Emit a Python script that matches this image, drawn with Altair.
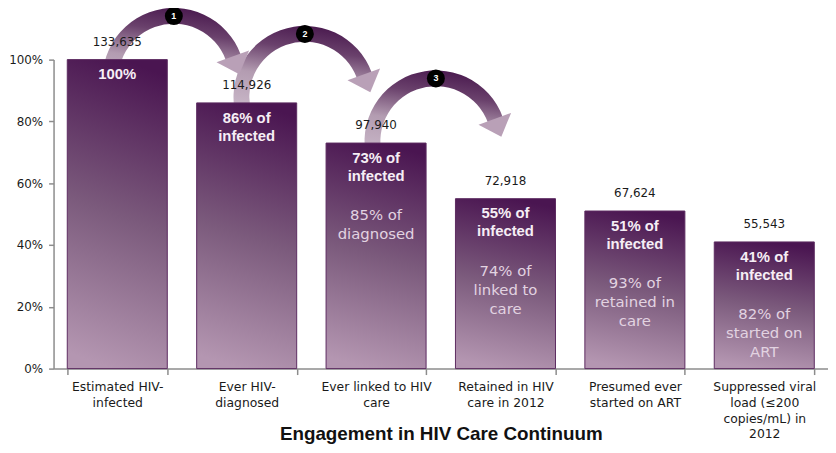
import altair as alt
import pandas as pd

# ---- data ----
categories = [
    "Estimated HIV-\ninfected",
    "Ever HIV-\ndiagnosed",
    "Ever linked to HIV\ncare",
    "Retained in HIV\ncare in 2012",
    "Presumed ever\nstarted on ART",
    "Suppressed viral\nload (≤200\ncopies/mL) in\n2012",
]
pct_values = [100, 86, 73, 55, 51, 41]
count_labels = ["133,635", "114,926", "97,940", "72,918", "67,624", "55,543"]
main_labels = ["100%", "86% of\ninfected", "73% of\ninfected", "55% of\ninfected",
               "51% of\ninfected", "41% of\ninfected"]
sub_labels = ["", "", "85% of\ndiagnosed", "74% of\nlinked to\ncare",
              "93% of\nretained in\ncare", "82% of\nstarted on\nART"]
y_ticks = [0, 20, 40, 60, 80, 100]

# curved step arrows (position in category-index units and % units)
arrow_x = [0.932, 1.947, 2.962]
arrow_y = [93.6, 87.8, 73.4]
arrow_nums = ["1", "2", "3"]

df = pd.DataFrame({"cat": categories, "pct": pct_values, "count": count_labels,
                   "main": main_labels, "sub": sub_labels})
arr = pd.DataFrame({"ax": arrow_x, "ay": arrow_y, "num": arrow_nums})

W, H = 782, 312
FONT = "DejaVu Sans"
BOLD = "Liberation Sans"
AXIS_GRAY = "#8c8c8c"

x_enc = alt.X(
    "cat:N", sort=categories,
    scale=alt.Scale(paddingInner=0.227, paddingOuter=0.106),
    axis=alt.Axis(
        title="Engagement in HIV Care Continuum", labelAngle=0,
        labelExpr="split(datum.label, '\\n')",
        domainColor=AXIS_GRAY, domainWidth=1.5, tickColor=AXIS_GRAY, tickWidth=1.5,
        tickSize=6, tickBand="extent", labelFont=FONT, labelFontSize=12.5,
        labelColor="#1a1a1a", labelLineHeight=16, labelPadding=6,
        labelBaseline="top", labelLimit=0, labelOverlap=False,
        titleFont=BOLD, titleFontSize=19, titleFontWeight="bold",
        titleColor="#111111", titleY=66, titleBaseline="middle",
    ),
)
y_enc = alt.Y(
    "pct:Q", scale=alt.Scale(domain=[0, 100], nice=False),
    axis=alt.Axis(values=y_ticks, labelExpr="datum.value + '%'", title=None,
                  grid=False, domainColor=AXIS_GRAY, domainWidth=1.5,
                  tickColor=AXIS_GRAY, tickWidth=1.5, tickSize=5,
                  labelFont=FONT, labelFontSize=12, labelColor="#1a1a1a",
                  labelPadding=6),
)

bar_grad = alt.Gradient(
    gradient="linear",
    stops=[alt.GradientStop(offset=0, color="#4a1551"),
           alt.GradientStop(offset=0.5, color="#7b5a7c"),
           alt.GradientStop(offset=1, color="#b496b1")],
    x1=0.56, y1=0, x2=0.44, y2=1,
)
arc_grad = alt.Gradient(
    gradient="linear",
    stops=[alt.GradientStop(offset=0, color="#4a1a4f"),
           alt.GradientStop(offset=0.25, color="#6a416c"),
           alt.GradientStop(offset=0.55, color="#b39cb1"),
           alt.GradientStop(offset=1, color="#cdbccc")],
    x1=0.6, y1=0, x2=0.4, y2=1,
)

base = alt.Chart(df)
bars = base.mark_bar(fill=bar_grad, stroke="#5c2a60", strokeWidth=1).encode(x=x_enc, y=y_enc)
counts = base.mark_text(dy=-18, baseline="middle", font=FONT, fontSize=12,
                        color="#1a1a1a").encode(x=x_enc, y=y_enc, text="count:N")
mains = base.mark_text(baseline="top", dy=8, lineBreak="\n", font=BOLD, fontSize=15,
                       fontWeight="bold", color="#f6eef5", lineHeight=18).encode(
    x=x_enc, y=y_enc, text="main:N")
subs = base.mark_text(baseline="top", dy=66, lineBreak="\n", font=FONT, fontSize=15,
                      color="#e2d3e1", lineHeight=19).encode(x=x_enc, y=y_enc, text="sub:N")
main_layer = alt.layer(bars, counts, mains, subs)

ax_enc = alt.X("ax:Q", scale=alt.Scale(domain=[0, 6], nice=False, zero=False), axis=None)
ay_enc = alt.Y("ay:Q", scale=alt.Scale(domain=[0, 100], nice=False), axis=None)
adec = alt.Chart(arr)
arcs = adec.mark_arc(theta=4.3633, theta2=7.5049, radius=72, radius2=56,
                     fill=arc_grad).encode(x=ax_enc, y=ay_enc)
heads = adec.mark_point(shape="M-1,-0.5L1,-0.5L0,0.6Z", size=1225, angle=340,
                        filled=True, color="#b9a0b7", opacity=1, strokeWidth=0,
                        xOffset=62.5, yOffset=-15).encode(x=ax_enc, y=ay_enc)
circles = adec.mark_point(shape="circle", size=330, filled=True, color="#000000",
                          opacity=1, yOffset=-64).encode(x=ax_enc, y=ay_enc)
nums = adec.mark_text(dy=-64, baseline="middle", color="white", fontSize=9,
                      fontWeight="bold", font=BOLD).encode(x=ax_enc, y=ay_enc, text="num:N")
deco_layer = alt.layer(arcs, heads, circles, nums)

chart = (
    alt.layer(deco_layer, main_layer)
    .resolve_scale(x="independent", y="independent")
    .properties(width=W, height=H,
                padding={"left": 46, "top": 50, "right": 0, "bottom": 74},
                autosize=alt.AutoSizeParams(type="none"))
    .configure_view(stroke=None)
)

chart.save("out.html", embed_options={"renderer": "svg", "actions": False})
